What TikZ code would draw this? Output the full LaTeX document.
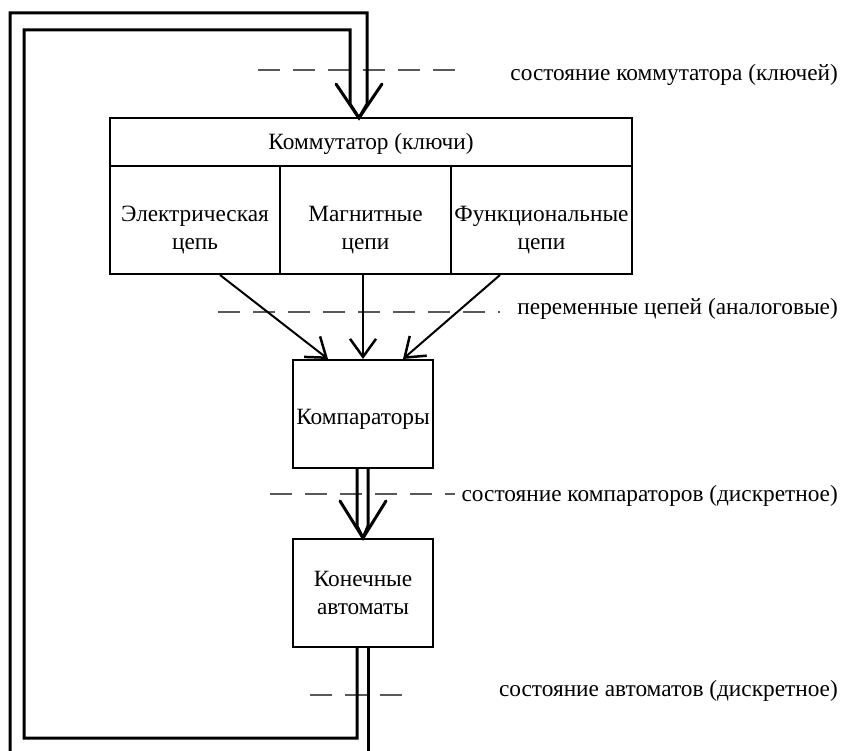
\documentclass[tikz,border=0pt]{standalone}
\usepackage{fontspec}
\setmainfont{Liberation Serif}
\usetikzlibrary{arrows.meta}
\newcommand{\lowerby}[1]{\rule{0pt}{#1}}
\tikzset{
  box/.style={draw=black, line width=2pt, inner sep=0pt, align=center, font=\fontsize{23.3}{28}\selectfont},
  loopline/.style={line width=3pt, line join=miter},
  thickarrow/.style={line width=3pt},
  wing/.style={line width=3pt, line cap=round},
  thinarrow/.style={line width=2pt, -{Straight Barb[length=18pt, width=26pt, line width=2.5pt]}},
  dashline/.style={draw=black!65, line width=1.3pt, dash pattern=on 22pt off 13pt},
  lbl/.style={anchor=east, inner sep=0pt, font=\fontsize{23.3}{28}\selectfont}
}
\begin{document}
\begin{tikzpicture}[x=1pt,y=-1pt]
\useasboundingbox (0,0) rectangle (843,751);
% boxes
\node[box, minimum width=522pt, minimum height=48pt] (comm) at (371,142) {\lowerby{20pt}Коммутатор (ключи)};
\node[box, minimum width=170pt, minimum height=108pt] (c1) at (195,220) {\lowerby{36pt}Электрическая\\цепь};
\node[box, minimum width=171pt, minimum height=108pt] (c2) at (365.5,220) {\lowerby{36pt}Магнитные\\цепи};
\node[box, minimum width=181pt, minimum height=108pt] (c3) at (541.5,220) {\lowerby{36pt}Функциональные\\цепи};
\node[box, minimum width=140pt, minimum height=108pt] (comp) at (363,414) {\lowerby{26pt}Компараторы};
\node[box, minimum width=140pt, minimum height=108pt] (auto) at (363,593) {Конечные\\автоматы};

% dashed lines
\draw[dashline] (258,70) -- (462,70);
\draw[dashline] (218,312) -- (500,312);
\draw[dashline] (270,494) -- (455,494);
\draw[dashline] (310,695) -- (414,695);

% labels
\node[lbl] (l1) at (838,75) {состояние коммутатора (ключей)};
\node[lbl] (l2) at (838,309) {переменные цепей (аналоговые)};
\node[lbl] (l3) at (838,496) {состояние компараторов (дискретное)};
\node[lbl] (l4) at (838,691) {состояние автоматов (дискретное)};

% helper x positions
\coordinate (x220) at (220,0);
\coordinate (x328) at (328,0);
\coordinate (x357) at (357,0);
\coordinate (x363) at (363,0);
\coordinate (x368) at (368,0);
\coordinate (x403) at (403,0);
\coordinate (x500) at (500,0);

% feedback loop
\coordinate (tipA) at (359,118);
\coordinate (ob) at (368,751);
\coordinate (ol) at (10,751);
\draw[loopline] (auto.south -| x368) -- (ob);
\draw[loopline] (ol) -- (10,13) -- (367,13) -- (367,104) -- (tipA);
\draw[loopline] (auto.south -| x357) -- (357,738) -- (24,738) -- (24,30) -- (350,30) -- (350,104) -- (tipA);
\draw[wing] (tipA) ++(-23,-34) -- (tipA) -- ++(23,-34);

% arrows to comparators
\draw[thinarrow] (c1.south -| x220) -- (comp.north -| x328);
\draw[thinarrow] (c2.south -| x363) -- (comp.north -| x363);
\draw[thinarrow] (c3.south -| x500) -- (comp.north -| x403);

% comparators -> automata
\coordinate (tipB) at (auto.north);
\draw[thickarrow] (comp.south -| x357) -- (357,526) -- (tipB);
\draw[thickarrow] (comp.south -| x368) -- (368,526) -- (tipB);
\draw[wing] (tipB) ++(-23,-37) -- (tipB) -- ++(23,-37);
\end{tikzpicture}
\end{document}
